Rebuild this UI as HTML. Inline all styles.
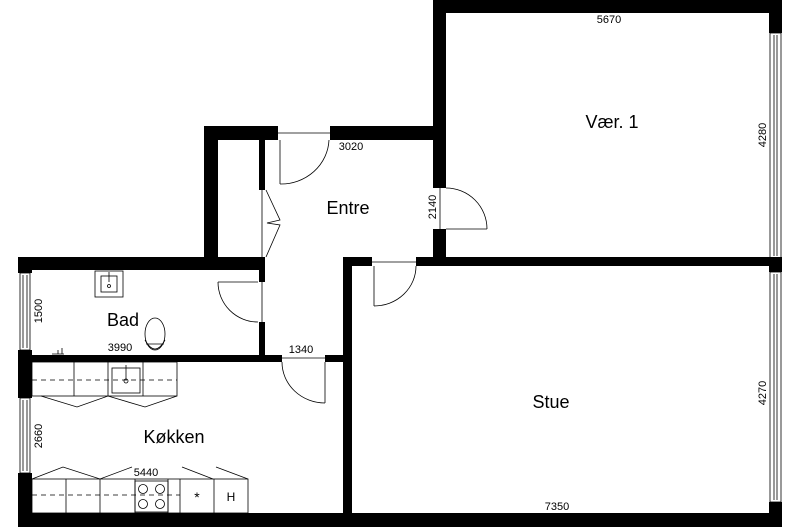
<!DOCTYPE html>
<html><head><meta charset="utf-8"><style>html,body{margin:0;padding:0;background:#fff}svg{display:block}text{font-family:"Liberation Sans",sans-serif;fill:#000}</style></head><body>
<svg width="800" height="531" viewBox="0 0 800 531" xmlns="http://www.w3.org/2000/svg">
<g fill="#000">
<!-- Vær 1 -->
<rect x="433" y="0" width="349" height="13"/>
<rect x="433" y="0" width="13" height="188"/>
<rect x="433" y="229" width="13" height="37"/>
<rect x="769" y="0" width="13" height="33"/>
<rect x="416" y="257" width="366" height="9"/>
<rect x="769" y="258" width="13" height="14"/>
<rect x="769" y="502" width="13" height="25"/>
<!-- Stue -->
<rect x="343" y="257" width="29" height="9"/>
<rect x="343" y="257" width="9" height="270"/>
<!-- bottom -->
<rect x="18" y="513" width="764" height="14"/>
<!-- entre top -->
<rect x="330" y="126" width="116" height="14"/>
<rect x="204" y="126" width="74" height="14"/>
<rect x="204" y="126" width="14" height="144"/>
<rect x="259" y="126" width="6" height="64"/>
<rect x="259" y="257" width="6" height="25"/>
<rect x="259" y="322" width="6" height="40"/>
<rect x="18" y="257" width="247" height="13"/>
<!-- left -->
<rect x="18" y="257" width="14" height="16"/>
<rect x="18" y="350" width="14" height="48"/>
<rect x="18" y="473" width="14" height="54"/>
<rect x="32" y="355" width="250" height="7"/>
<rect x="325" y="355" width="20" height="7"/>
</g>
<g fill="none" stroke="#000" stroke-width="0.8">
<!-- windows -->
<rect x="770" y="33" width="11" height="225"/><line x1="774" y1="35" x2="774" y2="256"/><line x1="777" y1="35" x2="777" y2="256"/>
<rect x="770" y="272" width="11" height="230"/><line x1="774" y1="274" x2="774" y2="500"/><line x1="777" y1="274" x2="777" y2="500"/>
<rect x="20" y="273" width="10" height="77"/><line x1="23" y1="275" x2="23" y2="348"/><line x1="27" y1="275" x2="27" y2="348"/>
<rect x="20" y="398" width="10" height="75"/><line x1="23" y1="400" x2="23" y2="471"/><line x1="27" y1="400" x2="27" y2="471"/>
<!-- doors -->
<line x1="280" y1="140" x2="280" y2="184"/><path d="M280 184 A48 46 0 0 0 329 140"/><line x1="278" y1="133" x2="330" y2="133"/>
<line x1="446" y1="229" x2="487" y2="229"/><path d="M446 188 A41 41 0 0 1 487 229"/><line x1="440" y1="188" x2="440" y2="229"/>
<line x1="374" y1="266" x2="374" y2="306"/><path d="M416 266 A42 40 0 0 1 374 306"/><line x1="372" y1="262" x2="416" y2="262"/>
<line x1="218" y1="282" x2="258" y2="282"/><path d="M218 282 A40 40 0 0 0 258 322"/><line x1="262" y1="282" x2="262" y2="322"/>
<line x1="325" y1="362" x2="325" y2="403"/><path d="M282 362 A43 41 0 0 0 325 403"/><line x1="282" y1="358" x2="325" y2="358"/>
<line x1="262" y1="190" x2="262" y2="257"/>
<polyline points="266,190 280,220 267,223 280,225 266,257"/>
<!-- bad -->
<rect x="95" y="271" width="28" height="26"/><rect x="101" y="276" width="16" height="16"/><circle cx="109" cy="286" r="1.5"/><line x1="109" y1="272" x2="109" y2="282"/>
<ellipse cx="155" cy="334" rx="10" ry="16"/><path d="M145 340 Q155 358 165 340"/><line x1="146" y1="344" x2="164" y2="344"/>
<path d="M52 354 L64 354 M58 350 L58 354 M62 348 L62 354" />
<!-- kitchen upper -->
<rect x="32" y="362" width="145" height="34"/>
<line x1="74" y1="362" x2="74" y2="396"/><line x1="108" y1="362" x2="108" y2="396"/><line x1="143" y1="362" x2="143" y2="396"/>
<line x1="32" y1="380" x2="177" y2="380" stroke-dasharray="5,4"/>
<rect x="112" y="368" width="28" height="25"/><circle cx="126" cy="381" r="2"/><line x1="126" y1="365" x2="126" y2="379"/>
<polyline points="41,396 77,407 108,396 145,407 177,396"/>
<!-- kitchen lower -->
<rect x="32" y="479" width="216" height="34"/>
<line x1="66" y1="479" x2="66" y2="513"/><line x1="100" y1="479" x2="100" y2="513"/><line x1="135" y1="479" x2="135" y2="513"/><line x1="168" y1="479" x2="168" y2="513"/><line x1="180" y1="479" x2="180" y2="513"/><line x1="214" y1="479" x2="214" y2="513"/>
<line x1="32" y1="495" x2="180" y2="495" stroke-dasharray="5,4"/>
<rect x="135" y="481" width="33" height="31"/>
<circle cx="143" cy="489" r="4.5"/><circle cx="160" cy="489" r="4.5"/><circle cx="143" cy="504" r="4.5"/><circle cx="160" cy="504" r="4.5"/>
<polyline points="32,479 63,467 100,479 132,467"/>
<line x1="182" y1="467" x2="213" y2="479"/><line x1="216" y1="467" x2="248" y2="479"/>
</g>
<g font-size="18" text-anchor="middle">
<text x="612" y="128">Vær. 1</text>
<text x="348" y="214">Entre</text>
<text x="123" y="326">Bad</text>
<text x="174" y="443">Køkken</text>
<text x="551" y="408">Stue</text>
</g>
<g font-size="11" text-anchor="middle">
<text x="609" y="23">5670</text>
<text x="351" y="150">3020</text>
<text x="120" y="351">3990</text>
<text x="301" y="353">1340</text>
<text x="146" y="476">5440</text>
<text x="557" y="510">7350</text>
<text transform="translate(436,207) rotate(-90)">2140</text>
<text transform="translate(766,135) rotate(-90)">4280</text>
<text transform="translate(766,393) rotate(-90)">4270</text>
<text transform="translate(42,311) rotate(-90)">1500</text>
<text transform="translate(42,436) rotate(-90)">2660</text>
<text x="197" y="502" font-size="14">*</text>
<text x="231" y="501" font-size="12">H</text>
</g>
</svg>
</body></html>
